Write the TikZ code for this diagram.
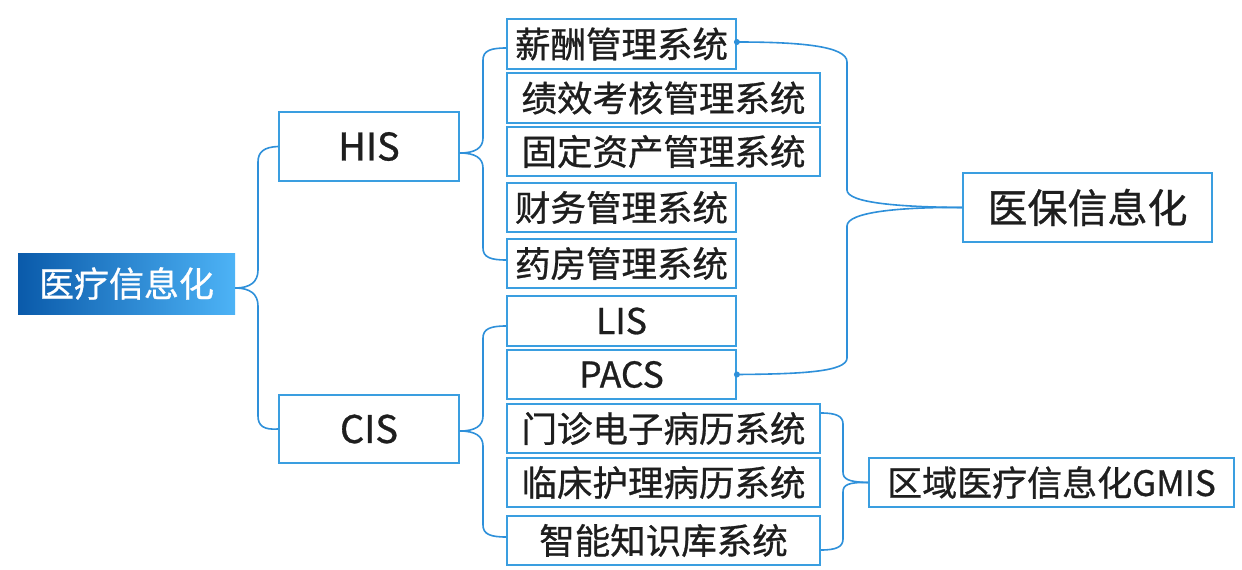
\documentclass[tikz,border=0pt]{standalone}
\usepackage{fontspec}
\setmainfont{Noto Sans CJK SC}[FakeBold=0.8]
\begin{document}
\begin{tikzpicture}[x=1pt,y=-1pt,
  box/.style={draw=boxblue,line width=1.8pt,fill=white,inner sep=0pt,text=textgray,anchor=center},
  child/.style={box,minimum height=49pt,font=\fontsize{35.5}{35.5}\selectfont},
  narrow/.style={child,minimum width=229pt},
  wide/.style={child,minimum width=313pt},
  mid/.style={box,minimum width=180pt,minimum height=69pt,font=\fontsize{38}{38}\selectfont},
  link/.style={draw=lineblue,line width=1.6pt},
  dot/.style={fill=lineblue,circle,inner sep=0pt,minimum size=6pt}]
\definecolor{boxblue}{HTML}{3A9EE0}
\definecolor{lineblue}{HTML}{2E90DA}
\definecolor{textgray}{HTML}{1E1E1E}
\definecolor{darkb}{HTML}{0A5AAA}
\definecolor{lightb}{HTML}{4DB3F6}
\useasboundingbox (0,0) rectangle (1242,570);
\fill[white] (0,0) rectangle (1242,570);
% nodes
\node[inner sep=0pt,minimum width=217pt,minimum height=61pt,left color=darkb,right color=lightb,text=white,font=\fontsize{35}{35}\selectfont] (root) at (126.5,283.5) {医疗信息化};
\node[mid] (his) at (369,146.5) {HIS};
\node[mid,minimum height=68pt] (cis) at (369,429) {CIS};
\node[narrow,minimum height=50pt] (c1) at (621.5,44) {薪酬管理系统};
\node[wide,minimum height=50pt] (c2) at (663.5,98) {绩效考核管理系统};
\node[wide] (c3) at (663.5,151.5) {固定资产管理系统};
\node[narrow] (c4) at (621.5,207.5) {财务管理系统};
\node[narrow] (c5) at (621.5,263.5) {药房管理系统};
\node[narrow,minimum height=50pt] (c6) at (621.5,321) {LIS};
\node[narrow] (c7) at (621.5,374.5) {PACS};
\node[wide] (c8) at (663.5,428.5) {门诊电子病历系统};
\node[wide] (c9) at (663.5,482.5) {临床护理病历系统};
\node[wide] (c10) at (663.5,540.5) {智能知识库系统};
\node[box,minimum width=249pt,minimum height=69pt,font=\fontsize{40}{40}\selectfont] (yb) at (1087.5,207.5) {医保信息化};
\node[box,minimum width=365pt,minimum height=49pt,font=\fontsize{35}{35}\selectfont] (gm) at (1051.5,482.5) {区域医疗信息化GMIS};
% root brace
\draw[link] ([yshift=-4.5pt]root.east) .. controls (250,288) and (258,282) .. (258,270) -- (258,162)
  .. controls (258,152) and (264,147) .. (his.west);
\draw[link] ([yshift=-4.5pt]root.east) .. controls (250,288) and (258,294) .. (258,306) -- (258,416)
  .. controls (258,426) and (264,430) .. (cis.west);
% HIS brace
\draw[link] ([yshift=-6.5pt]his.east) .. controls (475,153) and (483,148) .. (483,138) -- (483,60)
  .. controls (483,51) and (490,48) .. ([yshift=-4pt]c1.west);
\draw[link] ([yshift=-6.5pt]his.east) .. controls (475,153) and (483,158) .. (483,168) -- (483,248)
  .. controls (483,257) and (490,260) .. ([yshift=3.5pt]c5.west);
% CIS brace
\draw[link] ([yshift=-2pt]cis.east) .. controls (475,431) and (483,426) .. (483,416) -- (483,338)
  .. controls (483,329) and (490,326) .. ([yshift=-5pt]c6.west);
\draw[link] ([yshift=-2pt]cis.east) .. controls (475,431) and (483,436) .. (483,446) -- (483,525)
  .. controls (483,534) and (490,537) .. ([yshift=3.5pt]c10.west);
% 医保 brace
\node[dot] (d1) at ([yshift=2pt]c1.east) {};
\node[dot] (d7) at (c7.east) {};
\draw[link] (d1.center) .. controls (800,42) and (847,46) .. (847,62) -- (847,190)
  .. controls (847,203) and (900,207) .. (yb.west);
\draw[link] (d7.center) .. controls (800,374) and (847,372) .. (847,358) -- (847,226)
  .. controls (847,212) and (900,207) .. (yb.west);
% GMIS brace
\draw[link] ([yshift=15.5pt]c8.east) .. controls (836,413) and (843,416) .. (843,424) -- (843,472)
  .. controls (843,479) and (848,482) .. (gm.west);
\draw[link] ([yshift=-9.5pt]c10.east) .. controls (836,550) and (843,547) .. (843,539) -- (843,492)
  .. controls (843,485) and (848,482) .. (gm.west);
\end{tikzpicture}
\end{document}
